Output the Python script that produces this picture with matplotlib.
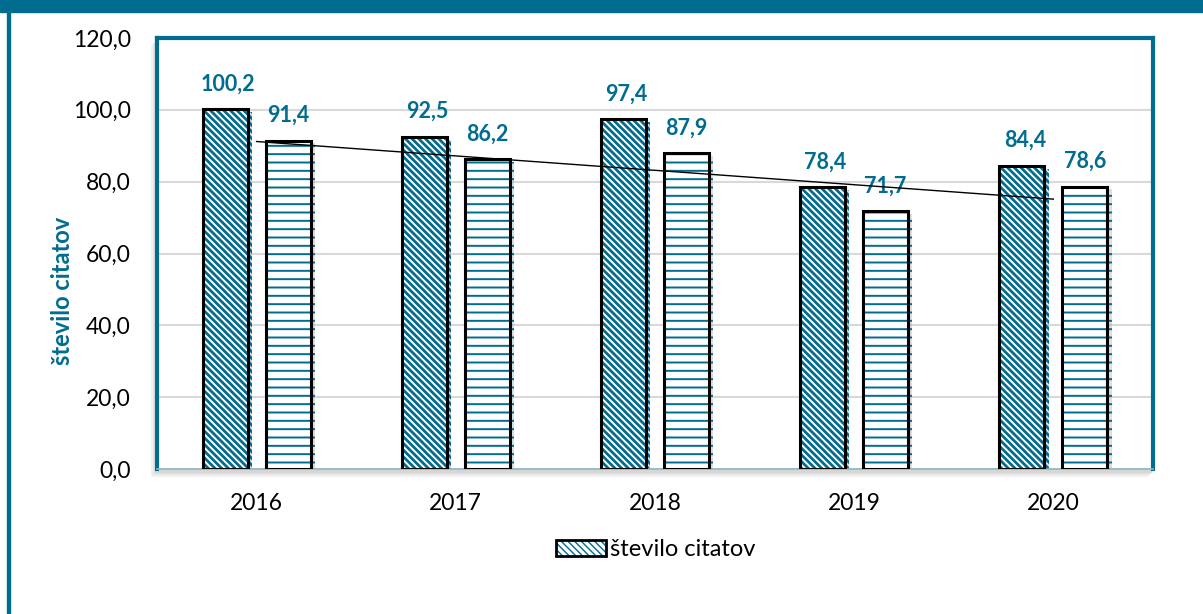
import matplotlib.pyplot as plt
import matplotlib.patches as mpatches
import matplotlib.patheffects as pe
from matplotlib.legend_handler import HandlerTuple
import numpy as np

# podatki
years = ["2016", "2017", "2018", "2019", "2020"]
citati = [100.2, 92.5, 97.4, 78.4, 84.4]
citati_2 = [91.4, 86.2, 87.9, 71.7, 78.6]
legend_label = "število citatov"
y_ticks = [0, 20, 40, 60, 80, 100, 120]

teal = "#006C8F"
plt.rcParams['font.family'] = ['Lato', 'DejaVu Sans']

fig = plt.figure(figsize=(12.03, 6.14), dpi=100)

# okvir slike: pas zgoraj in crta levo
fig.patches.append(mpatches.Rectangle((0, 1 - 12 / 614), 1, 12 / 614, transform=fig.transFigure,
                                      color=teal, zorder=-2))
fig.patches.append(mpatches.Rectangle((7 / 1203, 0), 3 / 1203, 1 - 12 / 614, transform=fig.transFigure,
                                      color=teal, zorder=-2))

ax_rect = [157 / 1203, 1 - 469 / 614, 996 / 1203, 431 / 614]
# mehka senca okoli obmocja grafa
for dx, dy, c in [(6, 7, "#f2f2f2"), (4, 5, "#e6e6e6"), (2, 3, "#d6d6d6")]:
    fig.patches.append(mpatches.Rectangle((ax_rect[0] - dx / 1203, ax_rect[1] - dy / 614),
                                          ax_rect[2], ax_rect[3], transform=fig.transFigure,
                                          color=c, zorder=-1))
ax = fig.add_axes(ax_rect)
ax.set_zorder(1)

x = np.arange(len(years))
w = 0.226
off = 0.158

shadow = [pe.SimplePatchShadow(offset=(3, -2), shadow_rgbFace="gray", alpha=0.25), pe.Normal()]

with plt.rc_context({'hatch.linewidth': 2.0}):
    b1 = ax.bar(x - off, citati, w, color="white", edgecolor=teal, hatch="\\\\\\\\\\", linewidth=0, zorder=2)
with plt.rc_context({'hatch.linewidth': 1.4}):
    b2 = ax.bar(x + off, citati_2, w, color="white", edgecolor=teal, hatch="--", linewidth=0, zorder=2)
for p in list(b1) + list(b2):
    p.set_path_effects(shadow)
ax.bar(x - off, citati, w, fill=False, edgecolor="black", linewidth=2.2, zorder=3)
ax.bar(x + off, citati_2, w, fill=False, edgecolor="black", linewidth=2.2, zorder=3)

# oznake vrednosti
for xi, v in zip(x - off, citati):
    ax.annotate(f"{v:.1f}".replace(".", ","), (xi, v), xytext=(2, 13.5), textcoords="offset points",
                ha="center", va="baseline", fontsize=15.5, fontweight="bold", color=teal)
for xi, v in zip(x + off, citati_2):
    ax.annotate(f"{v:.1f}".replace(".", ","), (xi, v), xytext=(0, 13.5), textcoords="offset points",
                ha="center", va="baseline", fontsize=15.5, fontweight="bold", color=teal)

# linearni trend
k, n = np.polyfit(x, citati_2, 1)
ax.plot(x, k * x + n, color="black", linewidth=1, zorder=4)

ax.set_xlim(-0.5, 4.5)
ax.set_ylim(0, 120)
ax.set_yticks(y_ticks)
ax.set_yticklabels([f"{t:.1f}".replace(".", ",") for t in y_ticks])
ax.set_xticks(x)
ax.set_xticklabels(years)
ax.tick_params(axis="y", length=0, pad=19, labelsize=16.5)
ax.tick_params(axis="x", length=0, pad=17, labelsize=16.5)
ax.grid(axis="y", color="#d9d9d9", linewidth=1.5, zorder=0)
ax.set_axisbelow(True)
for s in ["left", "top", "right"]:
    ax.spines[s].set_color(teal)
    ax.spines[s].set_linewidth(3)
ax.spines["bottom"].set_color("#8fb8c8")
ax.spines["bottom"].set_linewidth(1.2)

fig.text(62 / 1203, 1 - 291 / 614, "število citatov", rotation=90, ha="center", va="center",
         fontsize=17, fontweight="bold", color=teal)

with plt.rc_context({'hatch.linewidth': 2.0}):
    lh = mpatches.Patch(facecolor="white", edgecolor=teal, hatch="\\\\\\\\\\", linewidth=0)
lo = mpatches.Patch(fill=False, edgecolor="black", linewidth=2)
fig.legend([(lh, lo)], [legend_label], handler_map={tuple: HandlerTuple(ndivide=1, pad=0)},
           loc="center", bbox_to_anchor=(656 / 1203, 1 - 550 / 614), frameon=False, fontsize=17,
           handlelength=2.1, handleheight=0.65, handletextpad=0.2)

fig.savefig("out.png", dpi=100)
